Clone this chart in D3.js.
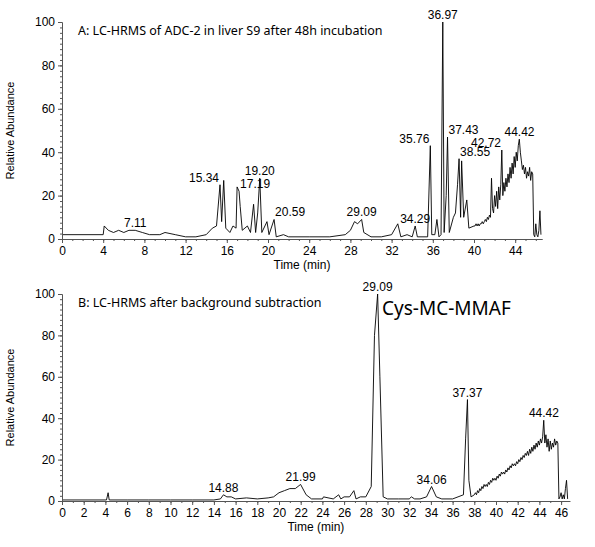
<!DOCTYPE html><html><head><meta charset="utf-8">
<script src="https://cdn.jsdelivr.net/npm/d3@7"></script>
<style>body{margin:0;background:#fff}</style></head><body><svg id="c" width="595" height="547"></svg>
<script>
// Panel A sparse trace (time, abundance)
const aTimes=[0,4,4.1,4.5,5,5.5,6,6.5,7.11,7.8,8.5,9.5,10,11,12,13,14,14.6,15,15.34,15.5,15.7,15.9,16.3,16.6,16.9,17.0,17.19,17.3,17.5,18,18.3,18.6,18.8,19.0,19.2,19.4,19.9,20.1,20.59,20.8,21.5,22,24,26,27.5,28,28.4,28.7,29.09,29.3,30,31,32,32.6,32.9,33.5,34.0,34.29,34.5,35.5,35.76,35.9,36.2,36.4,36.6,36.8,36.97,37.1,37.3,37.43,37.6,38,38.2,38.4,38.55,38.7,38.8,39,39.3,39.5,40];
const aVals=[2,2,6,4,3,4,3,4,4,3,2,2,3,2,1,1,2,5,6,25,8,27,5,3,6,5,24,22,15,4,6,3,16,3,12,28,3,8,2,9,1,2,1,1,1,2,4,8,7,9,3,1,1,2,7,1,2,1,6,1,1,43,2,2,9,1,2,100,3,20,47,3,10,12,25,37,10,36,10,18,5,6];
// Panel A noisy tail, sampled every 0.1 min from 40.1
const aTail=[6,7,6,7,6,7,7,8,7,8,9,8,10,9,11,10,28,14,12,20,15,22,14,24,18,25,41,20,26,22,28,24,30,26,33,28,35,30,38,33,40,36,43,46,40,36,32,34,30,33,28,31,29,33,27,31,30,2,1,7,2,1,4,13,2];
// Panel B sparse trace
const bTimes=[0,4.1,4.25,4.35,6,8,10,12,14,14.6,14.88,15.2,15.6,16,17,18,19,19.5,20,20.5,21,21.5,21.99,22.5,23,24,24.1,25,25.5,25.7,26,26.5,26.9,27.1,27.5,28,28.5,28.8,29.09,29.3,29.6,30,31,32,32.2,32.5,33,33.6,34.06,34.5,35,36,36.5,37,37.2,37.37,37.5,37.7,38];
const bVals=[0.5,0.5,4,0.5,0.5,0.5,0.5,0.5,0.5,1,3,2,2,1,1.5,1,1.5,2,4,5,6,6,8,3,1,1,2,1,3,1,2,2,5,1,2,2,7,80,100,60,2,1,1,1,2,1,1,2,7,2,1,1,2,3,30,49,10,2,3];
// Panel B noisy tail, sampled every 0.1 min from 38.1
const bTail=[4,3,5,4,6,5,7,6,8,7,8,7,9,8,10,9,11,10,11,10,12,11,13,12,14,13,14,13,15,14,16,15,17,16,18,17,18,17,19,18,20,19,21,20,22,21,23,22,24,22,25,23,26,24,27,25,28,26,29,27,30,28,31,39,28,32,26,30,24,29,25,28,26,30,27,29,28,1,2,4,1,3,1,6,10,1];
const peaksA=[[7.11,4,"7.11","middle"],[15.34,25,"15.34","end"],[17.19,22,"17.19","start"],[19.2,28,"19.20","middle"],[20.59,9,"20.59","start"],[29.09,9,"29.09","middle"],[34.29,6,"34.29","middle"],[35.76,43,"35.76","end"],[36.97,100,"36.97","middle"],[37.43,47,"37.43","start"],[38.55,37,"38.55","start"],[42.72,41,"42.72","end"],[44.42,46,"44.42","middle"]];
const peaksB=[[14.88,3,"14.88","middle"],[21.99,8,"21.99","middle"],[29.09,100,"29.09","middle"],[34.06,7,"34.06","middle"],[37.37,49,"37.37","middle"],[44.42,39,"44.42","middle"]];
const yTicks=[0,20,40,60,80,100];

const svg=d3.select("#c");
function panel(o){
  const x=d3.scaleLinear().domain([0,o.xmax]).range([62,o.xr]);
  const y=d3.scaleLinear().domain([0,100]).range([o.y0,o.y100]);
  const g=svg.append("g");
  const pts=o.times.map((t,i)=>[t,o.vals[i]]).concat(o.tail.map((v,i)=>[o.tailStart+0.1*(i+1),v]));
  g.append("path").datum(pts).attr("d",d3.line().x(d=>x(d[0])).y(d=>y(d[1]))).attr("fill","none").attr("stroke","#000").attr("stroke-width",0.9);
  g.append("g").attr("transform",`translate(0,${o.y0})`).call(d3.axisBottom(x).tickValues(d3.range(0,o.xmax,o.xstep)).tickSize(4).tickSizeOuter(0));
  g.append("g").attr("transform",`translate(0,${o.y0})`).call(d3.axisBottom(x).tickValues(d3.range(0,o.xmax,o.minor)).tickSize(2).tickFormat("").tickSizeOuter(0));
  g.append("g").attr("transform",`translate(62,0)`).call(d3.axisLeft(y).tickValues(yTicks).tickSize(4).tickSizeOuter(0));
  g.append("g").attr("transform",`translate(62,0)`).call(d3.axisLeft(y).tickValues(d3.range(0,101,2.5)).tickSize(2).tickFormat("").tickSizeOuter(0));
  g.selectAll(".tick text").attr("font-family","Liberation Sans, Arial").attr("font-size",12).attr("fill","#000");
  g.selectAll(".domain,.tick line").attr("stroke","#555");
  g.append("text").attr("x",(62+o.xr)/2).attr("y",o.y0+30).attr("text-anchor","middle").attr("font-family","Liberation Sans").attr("font-size",12).text("Time (min)");
  g.append("text").attr("transform",`translate(14,${(o.y0+o.y100)/2}) rotate(-90)`).attr("text-anchor","middle").attr("font-family","Liberation Sans").attr("font-size",11).text("Relative Abundance");
  g.selectAll(".pk").data(o.peaks).enter().append("text").attr("x",d=>x(d[0])+(d[3]=="end"?-1:d[3]=="start"?1:0)).attr("y",d=>y(d[1])-3).attr("text-anchor",d=>d[3]).attr("font-family","Liberation Sans").attr("font-size",12).text(d=>d[2]);
  g.append("text").attr("x",78).attr("y",o.y100+13).attr("font-family","Noto Sans").attr("font-size",12.5).text(o.title);
}
panel({xmax:46.6,xr:62+46.6*10.3,y0:239,y100:22,xstep:4,minor:1,times:aTimes,vals:aVals,tail:aTail,tailStart:40,peaks:peaksA,title:"A:   LC-HRMS of ADC-2 in liver S9 after 48h incubation"});
panel({xmax:46.8,xr:62+46.8*10.85,y0:501,y100:294,xstep:2,minor:1,times:bTimes,vals:bVals,tail:bTail,tailStart:38,peaks:peaksB,title:"B:  LC-HRMS after background subtraction"});
svg.append("text").attr("x",382).attr("y",315).attr("font-family","Noto Sans").attr("font-size",19).text("Cys-MC-MMAF");
</script></body></html>
